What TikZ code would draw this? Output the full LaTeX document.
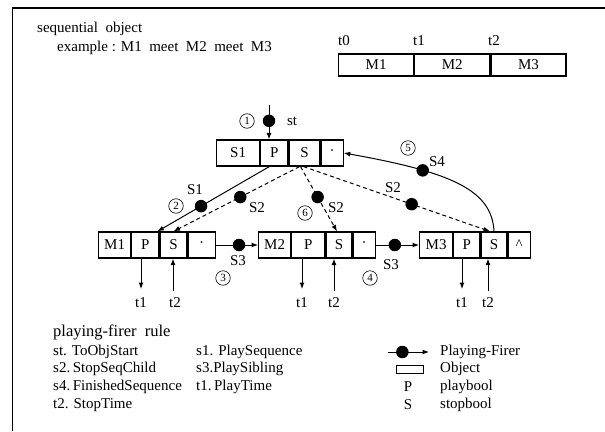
\documentclass[tikz,border=0pt]{standalone}
\usepackage{fontspec}
\setmainfont{Liberation Serif}
\usetikzlibrary{arrows.meta,calc}
\begin{document}
\begin{tikzpicture}[x=1pt,y=-1pt,
  every node/.style={font=\fontsize{15}{15}\selectfont, inner sep=0pt},
  cell/.style={draw, line width=1.2pt, minimum height=26pt, anchor=west},
  bar/.style={cell, minimum height=22pt, minimum width=75pt},
  tip/.style={-{Latex[length=6.5pt,width=5pt]}},
  conn/.style={line width=1pt, tip},
  dsh/.style={conn, dash pattern=on 4pt off 3pt},
  fdot/.style={circle, fill=black, minimum size=12.5pt, inner sep=0pt},
  cnum/.style={circle, draw, line width=0.6pt, minimum size=14.5pt, inner sep=0pt, font=\fontsize{11}{11}\selectfont},
  txt/.style={anchor=west}
]
\useasboundingbox (0,0) rectangle (605,431);
\fill[white] (0,0) rectangle (605,431);
\draw[line width=1.4pt] (12.5,431) -- (12.5,8) -- (605,8);

% header
\node[txt] (title) at (37,29) {sequential~ object};
\node[txt] (ex) at (57,48) {example : M1~ meet~ M2~ meet~ M3};
\node[bar] (b1) at (338,65) {M1};
\node[bar] (b2) at (b1.east) {M2};
\node[bar] (b3) at (b2.east) {M3};
\node[txt] (lt0) at (338,41) {t0};
\node[txt] (lt1) at (413,41) {t1};
\node[txt] (lt2) at (488,41) {t2};

% S1 box
\node[cell, minimum width=43pt] (sa) at (216,153) {S1};
\node[cell, minimum width=27pt] (sp) at (sa.east) {P};
\node[cell, minimum width=31pt] (ss) at (sp.east) {S};
\node[cell, minimum width=22pt] (sd) at (ss.east) {·};

% M1 box
\node[cell, minimum width=32pt] (m1a) at (98,245) {M1};
\node[cell, minimum width=27pt] (m1p) at (m1a.east) {P};
\node[cell, minimum width=27pt] (m1s) at (m1p.east) {S};
\node[cell, minimum width=27pt] (m1d) at (m1s.east) {·};

% M2 box
\node[cell, minimum width=32pt] (m2a) at (258,245) {M2};
\node[cell, minimum width=33pt] (m2p) at (m2a.east) {P};
\node[cell, minimum width=26pt] (m2s) at (m2p.east) {S};
\node[cell, minimum width=22pt] (m2d) at (m2s.east) {·};

% M3 box
\node[cell, minimum width=33pt] (m3a) at (419,245) {M3};
\node[cell, minimum width=26pt] (m3p) at (m3a.east) {P};
\node[cell, minimum width=26pt] (m3s) at (m3p.east) {S};
\node[cell, minimum width=22pt] (m3d) at (m3s.east) {\^{}};

% st
\coordinate (st0) at (269,105);
\draw[conn] (st0) -- node[fdot,pos=0.46] (dst) {} (st0 |- sp.north);
\node (lst) at (292,121) {st};
\node[cnum] (c1) at (247,121) {1};

% S1 firer
\draw[conn] ($(sp.south)+(-5,0)$) -- node[fdot,pos=0.61] (d2) {} ($(m1p.north east)+(-2,0)$);
\node (ls1) at (195,190) {S1};
\node[cnum] (c2) at (176,206) {2};

% S2 dashed firers
\draw[dsh] ($(ss.south)+(-5,0)$) -- node[fdot,pos=0.47] (d3) {} (m1s.north);
\node (ls2a) at (257,208) {S2};
\draw[dsh] ($(ss.south)+(-4,0)$) -- node[fdot,pos=0.47] (d4) {} ($(m2s.north)+(-2,0)$);
\node (ls2b) at (336,208) {S2};
\node[cnum] (c6) at (305,213) {6};
\draw[dsh] ($(ss.south)+(-1,0)$) -- node[fdot,pos=0.58] (d5) {} ($(m3s.north)+(-4,0)$);
\node (ls2c) at (393,188) {S2};

% S4 curve
\draw[conn] (m3s.north) .. controls ($(m3s.north)+(-2,-42)$) and (450,172) .. (sd.east) node[fdot,pos=0.7] (d6) {};
\node (ls4) at (437,162) {S4};
\node[cnum] (c5) at (408,148) {5};

% S3 firers
\draw[conn] (m1d.east) -- node[fdot,pos=0.55] (d7) {} (m2a.west);
\node (ls3a) at (238,261) {S3};
\node[cnum] (c3) at (223,278) {3};
\draw[conn] (m2d.east) -- node[fdot,pos=0.44] (d8) {} (m3a.west);
\node (ls3b) at (391,265) {S3};
\node[cnum] (c4) at (370,278) {4};

% time arrows
\coordinate (m1t1) at (141,289);
\coordinate (m1t2) at (173,291);
\draw[conn] (m1t1 |- m1p.south) -- (m1t1);
\draw[conn] (m1t2) -- (m1t2 |- m1s.south);
\node (lm1t1) at (141,303) {t1};
\node (lm1t2) at (175,303) {t2};

\coordinate (m2t1) at (302,289);
\coordinate (m2t2) at (334,291);
\draw[conn] (m2t1 |- m2p.south) -- (m2t1);
\draw[conn] (m2t2) -- (m2t2 |- m2s.south);
\node (lm2t1) at (302,303) {t1};
\node (lm2t2) at (334,303) {t2};

\coordinate (m3t1) at (462,289);
\coordinate (m3t2) at (488,291);
\draw[conn] (m3t1 |- m3p.south) -- (m3t1);
\draw[conn] (m3t2) -- (m3t2 |- m3s.south);
\node (lm3t1) at (462,303) {t1};
\node (lm3t2) at (488,303) {t2};

% legend left
\node[txt, font=\fontsize{16.5}{16.5}\selectfont] (lg0) at (53,332) {playing-firer~ rule};
\node[txt] (lg1) at (53,352) {st. ToObjStart};
\node[txt] (lg2) at (53,369) {s2.\,StopSeqChild};
\node[txt] (lg3) at (53,387) {s4.\,FinishedSequence};
\node[txt] (lg4) at (53,405) {t2. StopTime};
\node[txt] (lg5) at (196,352) {s1. PlaySequence};
\node[txt] (lg6) at (196,369) {s3.PlaySibling};
\node[txt] (lg7) at (196,387) {t1.\,PlayTime};

% legend right
\coordinate (la) at (388,352);
\coordinate (lb) at (429,352);
\draw[conn] (la) -- node[fdot,pos=0.35] (ld) {} (lb);
\node[txt] (lr1) at (440,352) {Playing-Firer};
\node[draw, line width=1pt, minimum width=27pt, minimum height=8pt] (lobj) at (409.5,369) {};
\node[txt] (lr2) at (440,369) {Object};
\node (lP) at (408,387) {P};
\node[txt] (lr3) at (440,387) {playbool};
\node (lS) at (408,405) {S};
\node[txt] (lr4) at (440,405) {stopbool};
\end{tikzpicture}
\end{document}
